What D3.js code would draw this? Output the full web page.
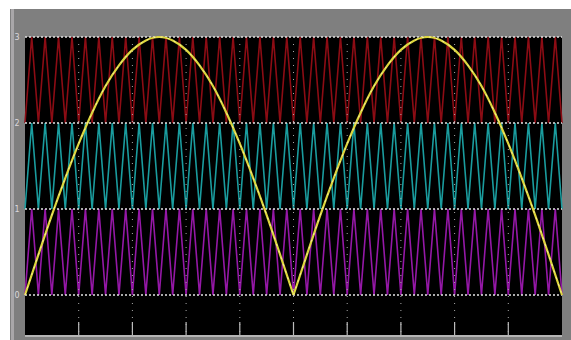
<!DOCTYPE html>
<html>
<head>
<meta charset="utf-8">
<script src="https://cdn.jsdelivr.net/npm/d3@7"></script>
<style>
  body { margin: 0; background: #fff; }
  svg { display: block; }
</style>
</head>
<body>
<div id="chart"></div>
<script>
// time axis in ms, one 50 Hz cycle
const timeRange = [0, 20];
const yTicks = [0, 1, 2, 3];
const yTickLabels = ["0", "1", "2", "3"];
const xDivisions = [0, 2, 4, 6, 8, 10, 12, 14, 16, 18, 20];

// carrier vertices, evenly spaced over the time range (40 triangles)
const carrierTop = [
  2,3,2,3,2,3,2,3,2,3,2,3,2,3,2,3,2,3,2,3,
  2,3,2,3,2,3,2,3,2,3,2,3,2,3,2,3,2,3,2,3,
  2,3,2,3,2,3,2,3,2,3,2,3,2,3,2,3,2,3,2,3,
  2,3,2,3,2,3,2,3,2,3,2,3,2,3,2,3,2,3,2,3,
  2
];
const carrierMid = [
  1,2,1,2,1,2,1,2,1,2,1,2,1,2,1,2,1,2,1,2,
  1,2,1,2,1,2,1,2,1,2,1,2,1,2,1,2,1,2,1,2,
  1,2,1,2,1,2,1,2,1,2,1,2,1,2,1,2,1,2,1,2,
  1,2,1,2,1,2,1,2,1,2,1,2,1,2,1,2,1,2,1,2,
  1
];
const carrierLow = [
  0,1,0,1,0,1,0,1,0,1,0,1,0,1,0,1,0,1,0,1,
  0,1,0,1,0,1,0,1,0,1,0,1,0,1,0,1,0,1,0,1,
  0,1,0,1,0,1,0,1,0,1,0,1,0,1,0,1,0,1,0,1,
  0,1,0,1,0,1,0,1,0,1,0,1,0,1,0,1,0,1,0,1,
  0
];

// rectified reference, sampled evenly over the time range
const reference = [
  0, 0.47, 0.93, 1.36, 1.76, 2.12, 2.43, 2.67, 2.85, 2.96,
  3, 2.96, 2.85, 2.67, 2.43, 2.12, 1.76, 1.36, 0.93, 0.47,
  0, 0.47, 0.93, 1.36, 1.76, 2.12, 2.43, 2.67, 2.85, 2.96,
  3, 2.96, 2.85, 2.67, 2.43, 2.12, 1.76, 1.36, 0.93, 0.47,
  0
];

const width = 571, height = 340;
const plot = { left: 25, right: 562, top: 37, bottom: 335 };

const svg = d3.select('#chart').append('svg')
  .attr('width', width)
  .attr('height', height);

// scope frame
svg.append('rect')
  .attr('x', 10).attr('y', 9)
  .attr('width', width - 10).attr('height', height - 9)
  .attr('fill', '#7f7f7f');
svg.append('rect')
  .attr('x', 11).attr('y', 9)
  .attr('width', 3).attr('height', height - 9)
  .attr('fill', '#a9a7a9');
svg.append('rect')
  .attr('x', plot.left).attr('y', plot.top)
  .attr('width', plot.right - plot.left).attr('height', plot.bottom - plot.top)
  .attr('fill', '#000');
svg.append('rect')
  .attr('x', plot.left).attr('y', plot.bottom)
  .attr('width', plot.right - plot.left).attr('height', 2)
  .attr('fill', '#b5b5b5');

const x = d3.scaleLinear().domain(timeRange).range([plot.left, plot.right]);
const y = d3.scaleLinear().domain([-0.465, 3]).range([plot.bottom, plot.top]);

const stepX = (arr, i) => x(timeRange[0] + (timeRange[1] - timeRange[0]) * i / (arr.length - 1));

const carrierLine = arr => d3.line()
  .x((d, i) => stepX(arr, i))
  .y(d => y(d))(arr);

const carriers = [
  { values: carrierTop, color: '#8c0c14' },
  { values: carrierMid, color: '#1a9c9e' },
  { values: carrierLow, color: '#9418a6' }
];

svg.append('g').selectAll('path')
  .data(carriers)
  .enter()
  .append('path')
  .attr('d', c => carrierLine(c.values))
  .attr('fill', 'none')
  .attr('stroke', c => c.color)
  .attr('stroke-width', 1.6);

// grid
const grid = svg.append('g');
grid.selectAll('.hgrid')
  .data(yTicks)
  .enter()
  .append('line')
  .attr('class', 'hgrid')
  .attr('x1', plot.left).attr('x2', plot.right)
  .attr('y1', d => y(d)).attr('y2', d => y(d))
  .attr('stroke', '#e4e4e4')
  .attr('stroke-width', 1.6)
  .attr('stroke-dasharray', '2,2');

grid.selectAll('.vgrid')
  .data(xDivisions.slice(1, -1))
  .enter()
  .append('line')
  .attr('class', 'vgrid')
  .attr('x1', d => x(d)).attr('x2', d => x(d))
  .attr('y1', plot.top).attr('y2', plot.bottom)
  .attr('stroke', '#a8a8a8')
  .attr('stroke-width', 1)
  .attr('stroke-dasharray', '1,6');

grid.selectAll('.xtick')
  .data(xDivisions.slice(1, -1))
  .enter()
  .append('line')
  .attr('class', 'xtick')
  .attr('x1', d => x(d)).attr('x2', d => x(d))
  .attr('y1', plot.bottom - 13).attr('y2', plot.bottom)
  .attr('stroke', '#bcbcbc')
  .attr('stroke-width', 1.2);

// y labels
svg.append('g').selectAll('text')
  .data(yTicks)
  .enter()
  .append('text')
  .attr('x', 17)
  .attr('y', d => y(d) + 3)
  .attr('text-anchor', 'middle')
  .attr('font-family', 'DejaVu Sans, sans-serif')
  .attr('font-size', 8)
  .attr('fill', '#dcd8dc')
  .text((d, i) => yTickLabels[i]);

// rectified reference, one hump per half cycle
const zeros = reference.map((v, i) => v === 0 ? i : -1).filter(i => i >= 0);
const humps = d3.pairs(zeros).map(([a, b]) => d3.range(a, b + 1));

const refLine = d3.line()
  .x(i => stepX(reference, i))
  .y(i => y(reference[i]))
  .curve(d3.curveMonotoneX);

svg.append('g').selectAll('path')
  .data(humps)
  .enter()
  .append('path')
  .attr('d', refLine)
  .attr('fill', 'none')
  .attr('stroke', '#dcd63c')
  .attr('stroke-width', 2.2);

svg.append('g').selectAll('path')
  .data(humps)
  .enter()
  .append('path')
  .attr('d', refLine)
  .attr('fill', 'none')
  .attr('stroke', '#fff4b8')
  .attr('stroke-width', 0.8)
  .attr('stroke-dasharray', '2,5');
</script>
</body>
</html>
